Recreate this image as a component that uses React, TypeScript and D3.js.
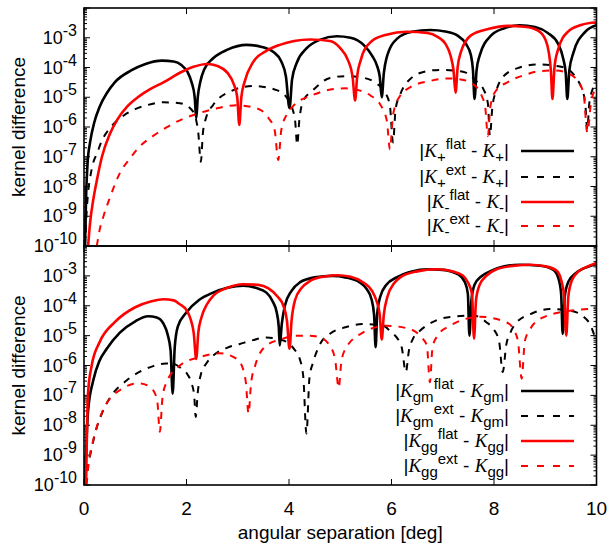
import React from 'react';
import * as d3 from 'd3';

// Each point: [angular separation in deg, log10 of the absolute kernel difference]
type Pt = [number, number];

const xTicks = [0, 2, 4, 6, 8, 10];
const yExponents = [-10, -9, -8, -7, -6, -5, -4, -3];
const minorMultipliers = [2, 3, 4, 5, 6, 7, 8, 9];

// ---- upper panel: shear correlation kernels K+ and K- ----
const kPlusFlat: Pt[] = [
  [0.02, -10], [0.04, -8.4], [0.07, -7.2], [0.12, -6.5], [0.2, -5.85], [0.31, -5.3], [0.45, -4.85],
  [0.6, -4.5], [0.92, -4.1], [1.2, -3.88], [1.52, -3.77], [1.75, -3.8], [1.9, -3.92], [2.02, -4.15],
  [2.1, -4.5], [2.16, -5.0], [2.19, -5.71], [2.22, -5.0], [2.27, -4.48], [2.35, -4.05], [2.52, -3.69],
  [2.8, -3.4], [3.17, -3.24], [3.45, -3.3], [3.69, -3.47], [3.85, -3.8], [3.94, -4.3], [4.01, -5.37],
  [4.06, -4.4], [4.15, -3.85], [4.34, -3.36], [4.6, -3.07], [4.93, -2.95], [5.2, -3.0], [5.46, -3.25],
  [5.62, -3.6], [5.72, -3.95], [5.77, -4.3], [5.81, -5.0], [5.85, -4.2], [5.9, -3.7], [6.11, -3.03],
  [6.4, -2.8], [6.76, -2.74], [7.05, -2.79], [7.29, -2.93], [7.45, -3.2], [7.55, -3.59], [7.59, -4.1],
  [7.62, -5.06], [7.66, -4.1], [7.72, -3.6], [7.94, -2.93], [8.2, -2.68], [8.5, -2.58], [8.8, -2.64],
  [9.05, -2.84], [9.25, -3.2], [9.35, -3.7], [9.4, -4.2], [9.43, -5.06], [9.47, -4.1], [9.55, -3.5],
  [9.78, -2.8], [10, -2.58],
];

const kPlusExt: Pt[] = [
  [0.02, -10], [0.05, -8.9], [0.08, -8.2], [0.12, -7.7], [0.18, -7.2], [0.25, -6.9], [0.35, -6.45],
  [0.51, -6.03], [0.77, -5.62], [1.0, -5.4], [1.22, -5.27], [1.55, -5.17], [1.87, -5.2], [2.07, -5.37],
  [2.17, -5.65], [2.23, -6.2], [2.28, -7.17], [2.32, -6.2], [2.38, -5.7], [2.52, -5.26], [2.85, -4.81],
  [3.3, -4.62], [3.76, -4.76], [3.95, -5.0], [4.07, -5.4], [4.12, -5.8], [4.16, -6.6], [4.2, -5.8],
  [4.27, -5.15], [4.47, -4.76], [4.8, -4.35], [5.1, -4.29], [5.4, -4.33], [5.72, -4.55], [5.88, -4.85],
  [5.97, -5.3], [6.03, -6.52], [6.08, -5.4], [6.17, -4.9], [6.37, -4.38], [6.7, -4.12], [6.96, -4.08],
  [7.41, -4.15], [7.65, -4.45], [7.8, -4.75], [7.88, -5.2], [7.92, -6.3], [7.97, -5.3], [8.05, -4.75],
  [8.2, -4.27], [8.5, -4.0], [8.86, -3.9], [9.38, -4.0], [9.6, -4.35], [9.72, -4.75], [9.78, -5.2],
  [9.82, -6.07], [9.86, -5.2], [9.93, -4.7], [10, -4.35],
];

const kMinusFlat: Pt[] = [
  [0.08, -10], [0.12, -9.2], [0.18, -8.45], [0.25, -7.8], [0.35, -7.0], [0.5, -6.25], [0.65, -5.75],
  [0.85, -5.3], [1.05, -5.0], [1.3, -4.72], [1.55, -4.5], [1.9, -4.15], [2.15, -3.97], [2.39, -3.88],
  [2.62, -3.96], [2.8, -4.18], [2.92, -4.55], [2.99, -5.0], [3.03, -5.93], [3.07, -5.0], [3.13, -4.5],
  [3.3, -3.82], [3.55, -3.45], [3.82, -3.24], [4.1, -3.11], [4.41, -3.06], [4.8, -3.11], [5.0, -3.35],
  [5.15, -3.75], [5.24, -4.3], [5.29, -5.11], [5.33, -4.3], [5.4, -3.75], [5.59, -3.15], [5.9, -2.9],
  [6.3, -2.8], [6.7, -2.84], [6.9, -2.97], [7.05, -3.2], [7.15, -3.59], [7.21, -4.1], [7.25, -4.85],
  [7.29, -4.0], [7.35, -3.5], [7.55, -2.92], [7.9, -2.7], [8.27, -2.6], [8.6, -2.63], [8.86, -2.76],
  [9.0, -3.05], [9.07, -3.5], [9.11, -4.1], [9.14, -5.06], [9.18, -4.0], [9.25, -3.4], [9.44, -2.8],
  [9.7, -2.57], [10, -2.48],
];

const kMinusExt: Pt[] = [
  [0.25, -10], [0.3, -9.5], [0.38, -9.0], [0.5, -8.4], [0.7, -7.55], [0.9, -7.05], [1.09, -6.65],
  [1.35, -6.3], [1.6, -6.02], [1.9, -5.75], [2.2, -5.56], [2.52, -5.4], [2.98, -5.27], [3.37, -5.37],
  [3.6, -5.7], [3.72, -6.1], [3.79, -7.11], [3.85, -6.1], [3.95, -5.6], [4.08, -5.3], [4.47, -4.92],
  [4.9, -4.72], [5.1, -4.7], [5.35, -4.76], [5.59, -4.94], [5.8, -5.3], [5.91, -5.8], [5.97, -6.75],
  [6.03, -5.6], [6.15, -5.0], [6.37, -4.66], [6.76, -4.45], [7.1, -4.37], [7.35, -4.4], [7.62, -4.6],
  [7.76, -4.95], [7.83, -5.35], [7.88, -6.3], [7.93, -5.3], [8.03, -4.8], [8.27, -4.49], [8.6, -4.25],
  [8.9, -4.12], [9.2, -4.1], [9.45, -4.2], [9.65, -4.5], [9.75, -4.9], [9.82, -6.18], [9.9, -5.1],
  [10, -4.7],
];

// ---- lower panel: galaxy-galaxy lensing (gm) and clustering (gg) kernels ----
const kGmFlat: Pt[] = [
  [0.02, -10], [0.05, -8.5], [0.08, -7.5], [0.18, -6.5], [0.3, -5.85], [0.44, -5.45], [0.7, -4.9],
  [1.0, -4.52], [1.25, -4.35], [1.42, -4.39], [1.55, -4.6], [1.63, -4.95], [1.69, -5.5], [1.73, -6.94],
  [1.77, -5.4], [1.83, -4.7], [2.0, -4.22], [2.25, -3.8], [2.52, -3.56], [2.8, -3.4], [3.11, -3.33],
  [3.35, -3.4], [3.56, -3.56], [3.68, -3.85], [3.76, -4.22], [3.8, -4.7], [3.82, -5.33], [3.86, -4.6],
  [3.92, -4.0], [4.05, -3.5], [4.21, -3.22], [4.5, -3.05], [4.86, -3.0], [5.1, -3.05], [5.38, -3.22],
  [5.52, -3.45], [5.61, -3.78], [5.66, -4.3], [5.69, -5.39], [5.72, -4.3], [5.78, -3.7], [5.9, -3.3],
  [6.1, -3.05], [6.4, -2.85], [6.7, -2.78], [7.0, -2.8], [7.3, -2.95], [7.43, -3.2], [7.49, -3.6],
  [7.52, -5.0], [7.56, -3.8], [7.62, -3.3], [7.75, -3.02], [7.92, -2.85], [8.2, -2.68], [8.5, -2.63],
  [8.9, -2.66], [9.16, -2.8], [9.26, -3.1], [9.31, -3.6], [9.34, -4.94], [9.38, -3.7], [9.45, -3.2],
  [9.6, -2.9], [9.74, -2.76], [10, -2.6],
];

const kGmExt: Pt[] = [
  [0.02, -10], [0.06, -9.5], [0.12, -9.0], [0.25, -8.07], [0.35, -7.6], [0.51, -7.07], [0.83, -6.5],
  [1.1, -6.2], [1.35, -6.02], [1.6, -5.93], [1.74, -5.94], [1.9, -6.1], [2.02, -6.3], [2.1, -6.6],
  [2.15, -7.0], [2.18, -7.72], [2.22, -6.9], [2.28, -6.3], [2.4, -5.9], [2.52, -5.67], [2.8, -5.4],
  [3.04, -5.28], [3.3, -5.15], [3.56, -5.06], [3.8, -5.12], [3.96, -5.22], [4.1, -5.45], [4.21, -5.78],
  [4.28, -6.4], [4.34, -8.28], [4.4, -6.4], [4.47, -5.9], [4.6, -5.3], [4.8, -4.94], [5.1, -4.72],
  [5.45, -4.61], [5.84, -4.67], [6.0, -4.9], [6.1, -5.06], [6.2, -5.4], [6.28, -6.22], [6.34, -5.5],
  [6.42, -5.1], [6.56, -4.83], [6.8, -4.55], [7.08, -4.39], [7.6, -4.33], [7.85, -4.55], [7.99, -4.78],
  [8.1, -5.2], [8.17, -6.22], [8.24, -5.3], [8.32, -4.9], [8.44, -4.56], [8.75, -4.25], [9.09, -4.11],
  [9.4, -4.15], [9.61, -4.22], [9.8, -4.45], [9.87, -4.6], [9.95, -4.95], [10, -5.2],
];

const kGgFlat: Pt[] = [
  [0.04, -10], [0.06, -8.0], [0.08, -6.9], [0.15, -6.0], [0.31, -5.2], [0.6, -4.55], [1.0, -4.05],
  [1.3, -3.86], [1.55, -3.78], [1.75, -3.82], [1.87, -3.95], [2.0, -4.15], [2.08, -4.45], [2.14, -4.9],
  [2.19, -5.78], [2.23, -4.9], [2.29, -4.4], [2.4, -3.95], [2.52, -3.67], [2.8, -3.4], [3.1, -3.28],
  [3.4, -3.3], [3.6, -3.42], [3.78, -3.7], [3.89, -4.0], [3.96, -4.5], [4.01, -5.44], [4.05, -4.5],
  [4.12, -3.8], [4.25, -3.4], [4.41, -3.17], [4.7, -3.02], [4.95, -2.98], [5.2, -3.03], [5.45, -3.22],
  [5.62, -3.5], [5.71, -3.85], [5.77, -4.3], [5.81, -5.13], [5.85, -4.3], [5.92, -3.7], [6.05, -3.25],
  [6.17, -3.05], [6.5, -2.85], [6.88, -2.78], [7.2, -2.85], [7.4, -3.0], [7.5, -3.25], [7.57, -3.6],
  [7.61, -5.1], [7.65, -3.8], [7.72, -3.3], [7.85, -3.0], [8.05, -2.78], [8.4, -2.66], [8.7, -2.63],
  [9.0, -2.68], [9.22, -2.82], [9.32, -3.2], [9.37, -3.7], [9.41, -5.0], [9.45, -3.7], [9.52, -3.15],
  [9.65, -2.85], [9.81, -2.7], [10, -2.57],
];

const kGgExt: Pt[] = [
  [0.05, -10], [0.09, -9.3], [0.18, -8.5], [0.3, -7.8], [0.44, -7.27], [0.6, -6.95], [0.77, -6.75],
  [0.95, -6.62], [1.09, -6.6], [1.25, -6.68], [1.35, -6.83], [1.43, -7.2], [1.48, -8.22], [1.53, -7.1],
  [1.6, -6.6], [1.87, -6.0], [2.26, -5.72], [2.65, -5.59], [2.98, -5.78], [3.1, -6.1], [3.16, -6.6],
  [3.21, -7.61], [3.26, -6.6], [3.34, -6.0], [3.56, -5.33], [3.85, -5.12], [4.15, -5.0], [4.4, -5.0],
  [4.6, -5.06], [4.8, -5.35], [4.9, -5.8], [4.97, -6.75], [5.02, -5.9], [5.1, -5.45], [5.45, -4.89],
  [5.9, -4.67], [6.36, -4.78], [6.58, -5.05], [6.69, -5.33], [6.75, -6.56], [6.8, -5.4], [6.9, -5.0],
  [7.14, -4.67], [7.73, -4.37], [8.25, -4.56], [8.4, -4.85], [8.47, -5.22], [8.54, -6.44], [8.6, -5.2],
  [8.7, -4.8], [8.96, -4.39], [9.48, -4.17], [10, -4.1],
];

// legend label pieces: n = normal text, K = italic serif K, sub / sup = small shifted text
type Piece = { t: string; k: 'n' | 'K' | 'sub' | 'sup' };
const makeLabel = (sub: string, sup: string): Piece[] => [
  { t: '|', k: 'n' }, { t: 'K', k: 'K' }, { t: sub, k: 'sub' }, { t: sup, k: 'sup' },
  { t: '\u00a0-\u00a0', k: 'n' }, { t: 'K', k: 'K' }, { t: sub, k: 'sub' }, { t: '|', k: 'n' },
];

const RED = '#ff0000';
const BLACK = '#000000';

interface Series { data: Pt[]; color: string; dashed: boolean; label: Piece[] }

const topSeries: Series[] = [
  { data: kPlusFlat, color: BLACK, dashed: false, label: makeLabel('+', 'flat') },
  { data: kPlusExt, color: BLACK, dashed: true, label: makeLabel('+', 'ext') },
  { data: kMinusFlat, color: RED, dashed: false, label: makeLabel('-', 'flat') },
  { data: kMinusExt, color: RED, dashed: true, label: makeLabel('-', 'ext') },
];

const bottomSeries: Series[] = [
  { data: kGmFlat, color: BLACK, dashed: false, label: makeLabel('gm', 'flat') },
  { data: kGmExt, color: BLACK, dashed: true, label: makeLabel('gm', 'ext') },
  { data: kGgFlat, color: RED, dashed: false, label: makeLabel('gg', 'flat') },
  { data: kGgExt, color: RED, dashed: true, label: makeLabel('gg', 'ext') },
];

const W = 609;
const H = 548;
const LEFT = 84;
const RIGHT = 596.5;
const SANS = '"Liberation Sans", Arial, Helvetica, sans-serif';
const SERIF = '"Liberation Serif", "Times New Roman", serif';

const x = d3.scaleLinear().domain([0, 10]).range([LEFT, RIGHT]);

function LegendText({ pieces, xEnd, y }: { pieces: Piece[]; xEnd: number; y: number }) {
  let cur = 0;
  const shifts = { n: 0, K: 0, sub: 5, sup: -8 } as const;
  return (
    <text x={xEnd} y={y} textAnchor="end" fontFamily={SANS} fontSize={19} fill="#000">
      {pieces.map((p, i) => {
        const target = shifts[p.k];
        const dy = target - cur;
        cur = target;
        const small = p.k === 'sub' || p.k === 'sup';
        return (
          <tspan
            key={i}
            dy={dy}
            fontSize={small ? 15 : 19}
            fontFamily={p.k === 'K' ? SERIF : SANS}
            fontStyle={p.k === 'K' ? 'italic' : 'normal'}
          >
            {p.t}
          </tspan>
        );
      })}
    </text>
  );
}

function Panel({ series, top, bottom, legendY, id }: {
  series: Series[]; top: number; bottom: number; legendY: number[]; id: string;
}) {
  const y = d3.scaleLog().domain([1e-10, 1e-2]).range([bottom, top]);
  const line = d3.line<Pt>()
    .x((d) => x(d[0]))
    .y((d) => y(Math.pow(10, d[1])))
    .curve(d3.curveMonotoneX);

  const minorTicks: number[] = [];
  for (let e = -10; e < -2; e++) {
    minorMultipliers.forEach((m) => minorTicks.push(m * Math.pow(10, e)));
  }
  const majorVals = d3.range(-10, -1).map((e) => Math.pow(10, e));

  return (
    <g>
      <defs>
        <clipPath id={id}>
          <rect x={LEFT} y={top} width={RIGHT - LEFT} height={bottom - top} />
        </clipPath>
      </defs>
      {/* tick marks on all four sides */}
      <g stroke="#000" strokeWidth={1}>
        {majorVals.map((v, i) => (
          <g key={'M' + i}>
            <line x1={LEFT} x2={LEFT + 6} y1={y(v)} y2={y(v)} />
            <line x1={RIGHT} x2={RIGHT - 6} y1={y(v)} y2={y(v)} />
          </g>
        ))}
        {minorTicks.map((v, i) => (
          <g key={'m' + i}>
            <line x1={LEFT} x2={LEFT + 3} y1={y(v)} y2={y(v)} />
            <line x1={RIGHT} x2={RIGHT - 3} y1={y(v)} y2={y(v)} />
          </g>
        ))}
        {xTicks.map((t) => (
          <g key={'x' + t}>
            <line x1={x(t)} x2={x(t)} y1={bottom} y2={bottom - 6} />
            <line x1={x(t)} x2={x(t)} y1={top} y2={top + 6} />
          </g>
        ))}
      </g>
      {/* y tick labels */}
      {yExponents.map((e) => (
        <text key={e} x={77} y={y(Math.pow(10, e)) + 6} textAnchor="end" fontFamily={SANS} fontSize={18} fill="#000">
          10<tspan dy={-8} fontSize={16}>{e}</tspan>
        </text>
      ))}
      <text
        transform={`translate(18,${(top + bottom) / 2}) rotate(-90)`}
        textAnchor="middle"
        dominantBaseline="central"
        fontFamily={SANS}
        fontSize={19}
        fill="#000"
      >
        kernel difference
      </text>
      {/* curves */}
      <g clipPath={`url(#${id})`}>
        {series.map((s, i) => (
          <path
            key={i}
            d={line(s.data) || ''}
            fill="none"
            stroke={s.color}
            strokeWidth={s.dashed ? 2 : 2.6}
            strokeDasharray={s.dashed ? '7,7' : undefined}
          />
        ))}
      </g>
      {/* legend */}
      {series.map((s, i) => (
        <g key={'lg' + i}>
          <LegendText pieces={s.label} xEnd={509} y={legendY[i] + 6} />
          <line
            x1={521} x2={574} y1={legendY[i]} y2={legendY[i]}
            stroke={s.color}
            strokeWidth={s.dashed ? 2 : 2.6}
            strokeDasharray={s.dashed ? '7,9' : undefined}
          />
        </g>
      ))}
      <rect x={LEFT} y={top} width={RIGHT - LEFT} height={bottom - top} fill="none" stroke="#000" strokeWidth={1.6} />
    </g>
  );
}

export default function App() {
  return (
    <svg width={W} height={H} style={{ position: 'absolute', left: 0, top: 0, background: '#fff' }}>
      <rect width={W} height={H} fill="#fff" />
      <Panel series={topSeries} top={8} bottom={246} legendY={[151, 177, 202, 226]} id="clipTop" />
      <Panel series={bottomSeries} top={246} bottom={485} legendY={[391, 416, 441, 466]} id="clipBottom" />
      {xTicks.map((t) => (
        <text key={t} x={x(t)} y={515} textAnchor="middle" fontFamily={SANS} fontSize={19} fill="#000">
          {t}
        </text>
      ))}
      <text x={(LEFT + RIGHT) / 2} y={539} textAnchor="middle" fontFamily={SANS} fontSize={19} fill="#000">
        angular separation [deg]
      </text>
    </svg>
  );
}
